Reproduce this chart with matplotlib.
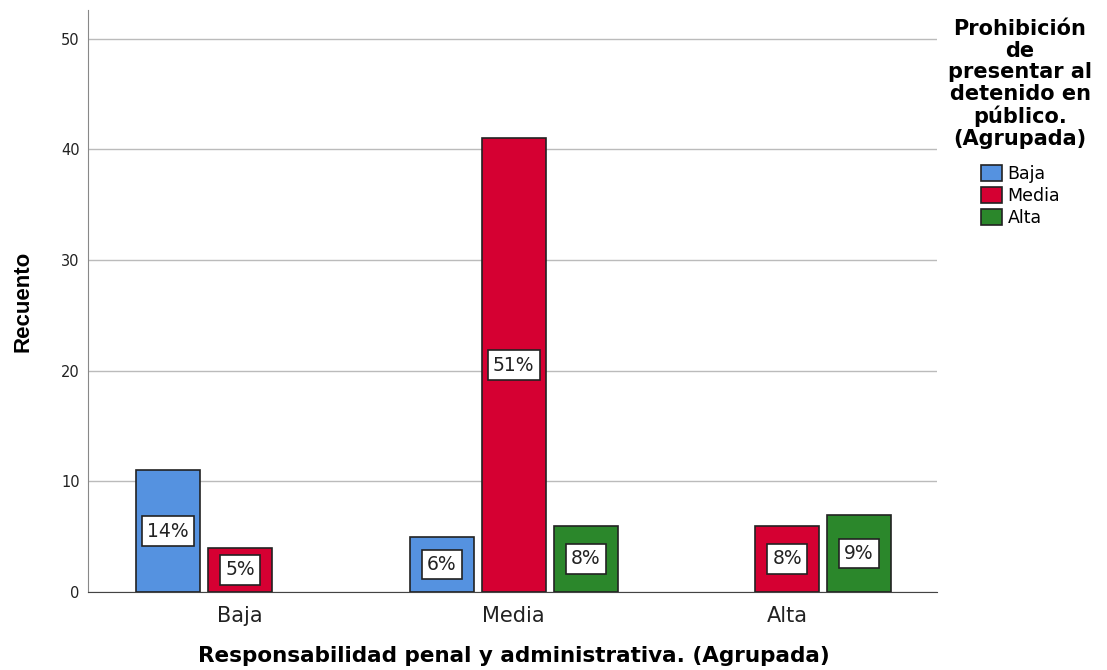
import numpy as np
import matplotlib.pyplot as plt

plt.rcParams['font.family'] = ['DejaVu Sans']

# Data
categories = ['Baja', 'Media', 'Alta']
series = ['Baja', 'Media', 'Alta']
counts = {
    'Baja': [11, 5, 0],
    'Media': [4, 41, 6],
    'Alta': [0, 6, 7],
}
percents = {
    'Baja': ['14%', '6%', None],
    'Media': ['5%', '51%', '8%'],
    'Alta': [None, '8%', '9%'],
}
colors = {'Baja': '#5592e0', 'Media': '#d50032', 'Alta': '#2b872b'}
legend_title = 'Prohibición\nde\npresentar al\ndetenido en\npúblico.\n(Agrupada)'

fig = plt.figure(figsize=(11.07, 6.70), dpi=100)
ax = fig.add_axes([0.0795, 0.1164, 0.767, 0.8686])

x = np.arange(len(categories))
step = 0.263
width = 0.234

for i, s in enumerate(series):
    offs = (i - 1) * step
    for j, v in enumerate(counts[s]):
        if v == 0:
            continue
        ax.bar(x[j] + offs, v, width, color=colors[s], edgecolor='#222222',
               linewidth=1.2, zorder=3)
        ax.text(x[j] + offs, v / 2, percents[s][j], ha='center', va='center',
                fontsize=13.5, color='#222222', zorder=4,
                bbox=dict(boxstyle='square,pad=0.28', fc='white', ec='#222222', lw=1.2))

ax.set_xlim(-0.556, 2.548)
ax.set_ylim(0, 52.6)
ax.set_yticks([0, 10, 20, 30, 40, 50])
ax.set_xticks(x)
ax.set_xticklabels(categories, fontsize=15, color='#222222')
ax.tick_params(axis='y', labelsize=10.5, colors='#222222', length=0, pad=6)
ax.tick_params(axis='x', length=0, pad=10)
ax.yaxis.grid(True, color='#bbbbbb', linewidth=1, zorder=0)
ax.set_axisbelow(True)
for sp in ['top', 'right']:
    ax.spines[sp].set_visible(False)
ax.spines['left'].set_color('#888888')
ax.spines['bottom'].set_color('#444444')

ax.set_ylabel('Recuento', fontsize=16, fontweight='bold', family='Liberation Sans')
ax.yaxis.set_label_coords(-0.064, 0.5)
ax.set_xlabel('Responsabilidad penal y administrativa. (Agrupada)', fontsize=15.5,
              fontweight='bold')
ax.xaxis.set_label_coords(0.502, -0.092)

# legend title drawn separately so the gap to the entries can be set
fig.text(1020 / 1107, 1 - 19 / 670, legend_title, ha='center', va='top',
         fontsize=15, fontweight='bold', linespacing=1.1, multialignment='center')

handles = [plt.Rectangle((0, 0), 1, 1, fc=colors[s], ec='#222222', lw=1.2) for s in series]
fig.legend(handles, series, loc='upper center', bbox_to_anchor=(0.922, 1 - 153 / 670),
           frameon=False, fontsize=12.5, handlelength=1.2, handleheight=1.0,
           handletextpad=0.3, labelspacing=0.22, borderpad=0.2)

plt.savefig('out.png', dpi=100)
